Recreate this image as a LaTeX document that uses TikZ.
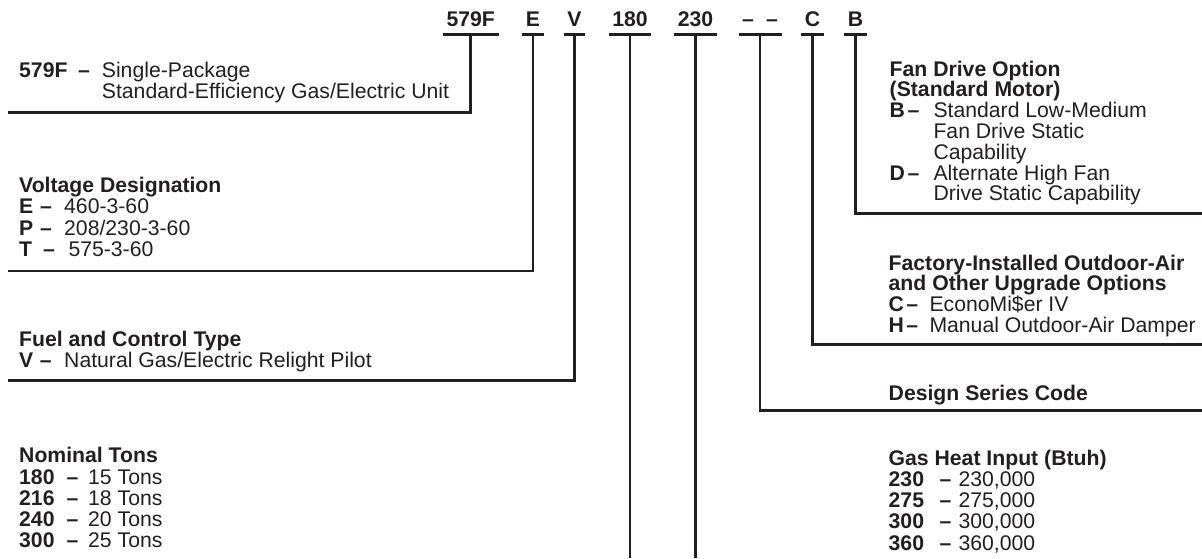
\documentclass[tikz,border=0pt]{standalone}
\usepackage{fontspec}
\setmainfont{Liberation Sans}
\usepackage{tikz}
\usetikzlibrary{positioning}
\definecolor{ink}{HTML}{231F20}
\newcommand{\optrow}[4]{\makebox[#1pt][l]{\textbf{#3}}\makebox[#2pt][l]{\textbf{--}}#4}
\newcommand{\optcont}[2]{\hspace*{#1pt}#2}
\tikzset{
  codebox/.style={font=\bfseries\fontsize{21.2}{21.2}\selectfont, text=ink, anchor=base, inner xsep=3.5pt, inner ysep=7.6pt, text depth=0pt},
  desc/.style={font=\fontsize{21.2}{21.3}\selectfont, text=ink, anchor=base west, align=left, inner sep=0pt},
  snug/.style={font=\fontsize{21.2}{20.8}\selectfont},
  lead/.style={draw=ink, line width=2.5pt},
}
\begin{document}
\begin{tikzpicture}[x=1pt, y=-1pt]
\useasboundingbox (0,0) rectangle (1202,558);
\node[codebox] (c579) at (470.7,26.7) {579F};
\node[codebox] (cE) at (533,26.7) {E};
\node[codebox] (cV) at (574.5,26.7) {V};
\node[codebox] (c180) at (630,26.7) {180};
\node[codebox] (c230) at (695.5,26.7) {230};
\node[codebox] (cSer) at (760,26.7) {--\hspace{12pt}--};
\node[codebox] (cC) at (812.5,26.7) {C};
\node[codebox] (cB) at (855.5,26.7) {B};
\foreach \c in {c579,cE,cV,c180,c230,cSer,cC,cB}
  \draw[lead] (\c.south west) -- (\c.south east);
\node[desc] (dUnit) at (19,98.7) {\optrow{59}{23.7}{579F}{Single-Package}\\\optcont{82.7}{Standard-Efficiency Gas/Electric Unit}};
\node[desc] (dVolt) at (19,256.3) {\textbf{Voltage Designation}\\\optrow{21}{24}{E}{460-3-60}\\\optrow{21}{24}{P}{208/230-3-60}\\\optrow{24}{25.3}{T}{575-3-60}};
\node[desc] (dFuel) at (19,367.3) {\textbf{Fuel and Control Type}\\\optrow{20.7}{24.3}{V}{Natural Gas/Electric Relight Pilot}};
\node[desc] (dTons) at (19,547.9) {\textbf{Nominal Tons}\\\optrow{47.4}{21.6}{180}{15 Tons}\\\optrow{47.4}{21.6}{216}{18 Tons}\\\optrow{47.4}{21.6}{240}{20 Tons}\\\optrow{47.4}{21.6}{300}{25 Tons}};
\node[desc, snug] (dFan) at (889.5,200.8) {\textbf{Fan Drive Option}\\\textbf{(Standard Motor)}\\\optrow{18}{25.8}{B}{Standard Low-Medium}\\\optcont{43.8}{Fan Drive Static}\\\optcont{43.8}{Capability}\\\optrow{18}{25.8}{D}{Alternate High Fan}\\\optcont{43.8}{Drive Static Capability}};
\node[desc, snug] (dOA) at (888.5,332.4) {\textbf{Factory-Installed Outdoor-Air}\\\textbf{and Other Upgrade Options}\\\optrow{17.6}{23.2}{C}{EconoMi\$er IV}\\\optrow{17.6}{23.2}{H}{Manual Outdoor-Air Damper}};
\node[desc] (dSer) at (888.5,400.5) {\textbf{Design Series Code}};
\node[desc] (dHeat) at (888.5,550.2) {\textbf{Gas Heat Input (Btuh)}\\\optrow{51}{18.8}{230}{230,000}\\\optrow{51}{18.8}{275}{275,000}\\\optrow{51}{18.8}{300}{300,000}\\\optrow{51}{18.8}{360}{360,000}};
\coordinate (e579) at (7.5,112.5);
\coordinate (eE) at (7.5,271);
\coordinate (eV) at (7.5,380.7);
\coordinate (bot) at (0,558);
\coordinate (eSer) at (1202,410.5);
\coordinate (eC) at (1202,344.3);
\coordinate (eB) at (1202,213.3);
\draw[lead] (c579.south) |- (e579);
\draw[lead] (cE.south) |- (eE);
\draw[lead] (cV.south) |- (eV);
\draw[lead] (c180.south) -- (c180|-bot);
\draw[lead] (c230.south) -- (c230|-bot);
\draw[lead] (cSer.south) |- (eSer);
\draw[lead] (cC.south) |- (eC);
\draw[lead] (cB.south) |- (eB);
\end{tikzpicture}
\end{document}
